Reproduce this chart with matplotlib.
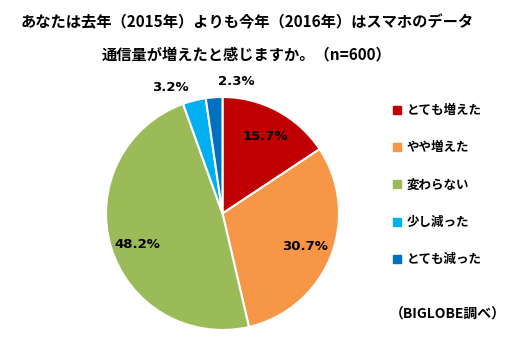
import matplotlib
matplotlib.use("Agg")
import matplotlib.pyplot as plt
from matplotlib.lines import Line2D

plt.rcParams['font.family'] = ['Noto Sans CJK JP', 'DejaVu Sans']

# answers and their share (%)
categories = ['とても増えた', 'やや増えた', '変わらない', '少し減った', 'とても減った']
shares = [15.7, 30.7, 48.2, 3.2, 2.3]
colors = ['#C00000', '#F79646', '#9BBB59', '#00B0F0', '#0070C0']

title1 = 'あなたは去年（2015年）よりも今年（2016年）はスマホのデータ'
title2 = '通信量が増えたと感じますか。（n=600）'
source = '（BIGLOBE調べ）'

# where each percentage label sits, in units of the pie radius
label_pos = [(0.37, 0.66), (0.71, -0.28), (-0.73, -0.27), (-0.45, 1.08), (0.12, 1.13)]

W, H = 515, 350
fig = plt.figure(figsize=(W / 100, H / 100), dpi=100)

# pie: centre (222.5, 213.5) px, radius 116.5 px
r = 116.5
ax = fig.add_axes([(222.5 - r) / W, (H - 213.5 - r) / H, 2 * r / W, 2 * r / H])
wedges, texts, autotexts = ax.pie(
    shares, colors=colors, startangle=90, counterclock=False,
    autopct='%.1f%%', radius=1.0,
    wedgeprops=dict(edgecolor='white', linewidth=1.5))
for t, (x, y) in zip(autotexts, label_pos):
    t.set_position((x, y))
    t.set_ha('center')
    t.set_va('center')
    t.set_fontsize(9.5)
    t.set_fontweight('bold')
    t.set_family('DejaVu Sans')
    t.set_color('black')
ax.set_xlim(-1, 1)
ax.set_ylim(-1, 1)
ax.set_aspect('equal')
ax.axis('off')

fig.text(247 / W, 1 - 22 / H, title1, ha='center', va='center',
         fontsize=11, fontweight='bold')
fig.text(247 / W, 1 - 54 / H, title2, ha='center', va='center',
         fontsize=11, fontweight='bold')

handles = [Line2D([], [], marker='s', linestyle='', color=c, markersize=5.5)
           for c in colors]
fig.legend(handles, categories, loc='upper left',
           bbox_to_anchor=(392 / W, 1 - 104 / H), frameon=False,
           prop=dict(size=9, weight='bold'), labelspacing=1.95,
           handlelength=0.8, handletextpad=0.35, borderpad=0, borderaxespad=0)

fig.text(448 / W, 1 - 315 / H, source, ha='center', va='center',
         fontsize=10, fontweight='bold')

fig.savefig('out.png', dpi=100)
